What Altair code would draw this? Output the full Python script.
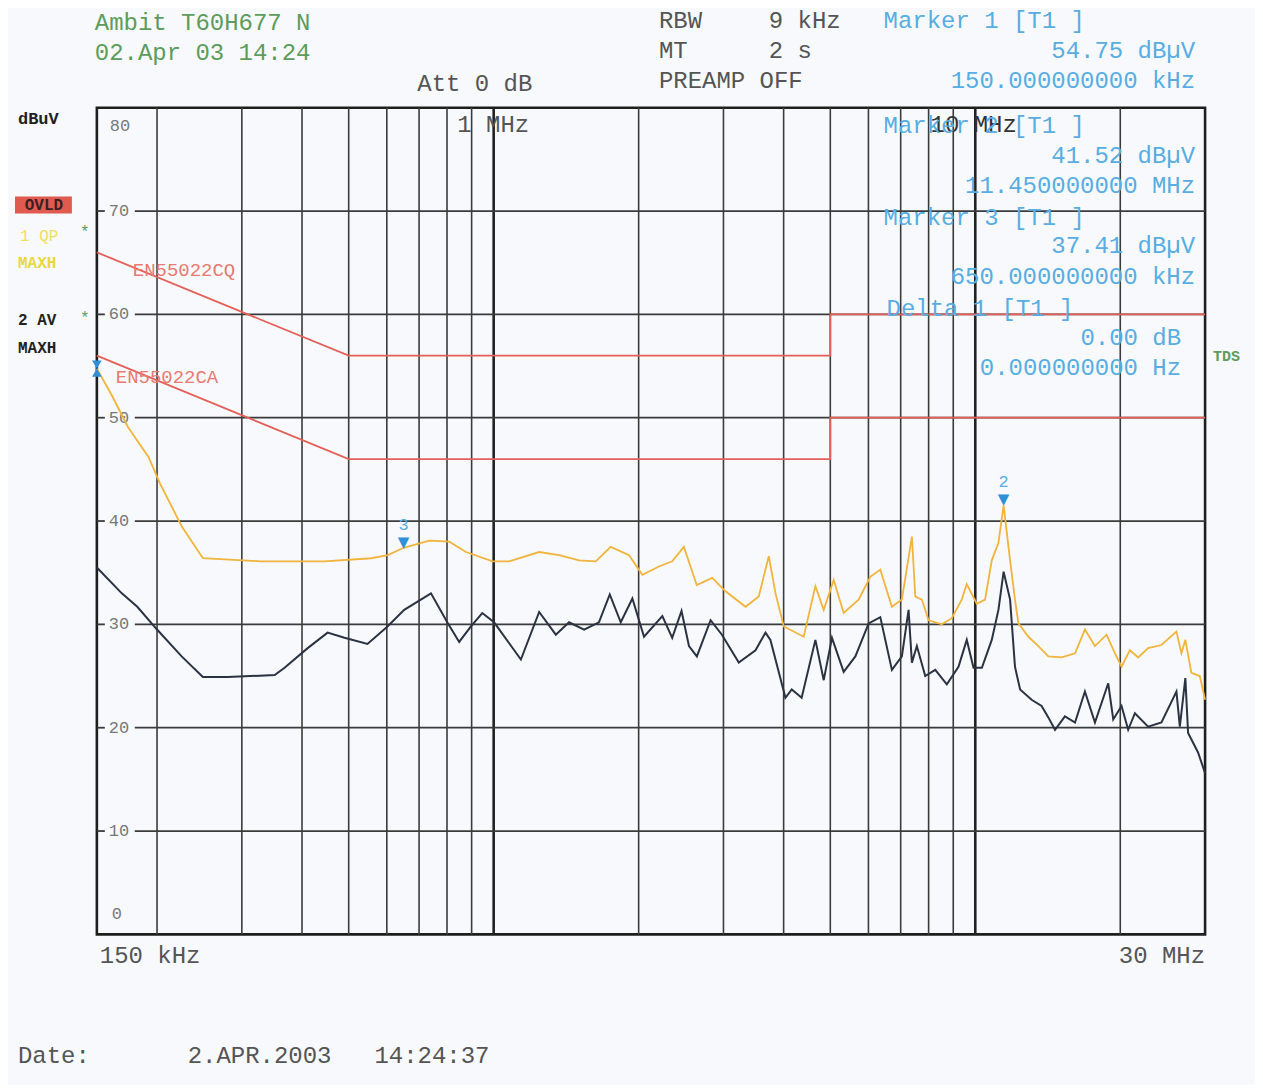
import altair as alt
import pandas as pd

# ---------------- data ----------------
# Trace 1: QP, max hold (yellow)
qp_freq_mhz = [0.150, 0.161, 0.174, 0.192, 0.203, 0.225, 0.249, 0.329, 0.445, 0.557,
               0.603, 0.650, 0.735, 0.809, 0.876, 0.995, 1.077, 1.243, 1.368, 1.504,
               1.629, 1.750, 1.910, 2.036, 2.204, 2.348, 2.483, 2.640, 2.843, 3.030,
               3.334, 3.552, 3.726, 3.848, 4.003, 4.403, 4.656, 4.845, 5.082, 5.330,
               5.724, 6.053, 6.350, 6.712, 7.040, 7.386, 7.506, 7.746, 7.998, 8.521,
               8.937, 9.373, 9.600, 10.07, 10.48, 10.82, 11.17, 11.45, 11.81, 12.09,
               12.29, 12.89, 13.52, 14.18, 15.11, 16.11, 16.89, 17.72, 18.73, 19.50,
               20.12, 20.94, 21.79, 22.85, 24.35, 26.16, 26.79, 27.30, 28.10, 29.25, 30.0]
qp_level_dbuv = [54.75, 52.2, 49.1, 46.2, 43.6, 39.5, 36.4, 36.1, 36.1, 36.4,
                 36.7, 37.41, 38.1, 38.0, 37.0, 36.1, 36.1, 37.0, 36.7, 36.2,
                 36.1, 37.5, 36.7, 34.8, 35.6, 36.1, 37.5, 33.8, 34.5, 33.2,
                 31.7, 32.7, 36.6, 33.0, 29.8, 28.8, 33.7, 31.4, 34.3, 31.1,
                 32.4, 34.6, 35.3, 31.7, 32.4, 38.5, 32.7, 32.4, 30.4, 30.0,
                 30.6, 32.4, 33.9, 32.0, 32.4, 36.2, 37.9, 41.52, 36.2, 32.4,
                 30.1, 28.8, 27.9, 26.9, 26.8, 27.2, 29.5, 27.9, 29.0, 27.2,
                 25.9, 27.5, 26.8, 27.7, 28.0, 29.3, 27.2, 28.5, 25.3, 25.0, 22.7]

# Trace 2: AV, max hold (dark)
av_freq_mhz = [0.150, 0.169, 0.182, 0.200, 0.225, 0.249, 0.280, 0.351, 0.368, 0.411,
               0.452, 0.490, 0.547, 0.602, 0.652, 0.741, 0.801, 0.848, 0.897, 0.947,
               1.002, 1.139, 1.243, 1.346, 1.434, 1.541, 1.654, 1.742, 1.836, 1.941,
               2.052, 2.240, 2.348, 2.455, 2.544, 2.642, 2.821, 2.978, 3.228, 3.497,
               3.668, 3.755, 4.035, 4.158, 4.360, 4.656, 4.845, 5.040, 5.330, 5.636,
               6.006, 6.350, 6.712, 7.040, 7.269, 7.386, 7.563, 7.872, 8.258, 8.727,
               9.228, 9.600, 9.915, 10.32, 10.82, 11.17, 11.45, 11.81, 12.09, 12.39,
               13.09, 13.73, 14.18, 14.64, 15.35, 16.11, 16.89, 17.72, 18.88, 19.34,
               20.12, 20.77, 21.45, 22.85, 24.35, 26.16, 26.59, 27.30, 27.66, 29.01, 30.0]
av_level_dbuv = [35.5, 33.0, 31.7, 29.5, 26.9, 24.9, 24.9, 25.1, 25.8, 27.7,
                 29.2, 28.7, 28.1, 29.8, 31.4, 33.0, 30.2, 28.3, 29.8, 31.1,
                 30.2, 26.6, 31.2, 29.0, 30.2, 29.5, 30.2, 32.9, 30.2, 32.5,
                 28.8, 30.8, 28.7, 31.3, 27.9, 26.9, 30.4, 29.0, 26.3, 27.5,
                 29.2, 28.5, 22.9, 23.7, 22.9, 28.5, 24.6, 28.7, 25.4, 26.9,
                 30.1, 30.7, 25.6, 26.9, 31.4, 26.3, 27.9, 25.0, 25.6, 24.2,
                 25.9, 28.5, 25.8, 25.8, 28.5, 31.4, 35.1, 32.4, 25.9, 23.7,
                 22.7, 22.1, 21.0, 19.8, 21.1, 20.5, 23.5, 20.5, 24.3, 20.8,
                 22.1, 19.8, 21.4, 20.1, 20.5, 23.5, 20.1, 24.8, 19.5, 17.6, 15.6]

# Limit lines
lim_qp_freq_mhz = [0.15, 0.5, 5.0, 5.0, 30.0]
lim_qp_level = [66, 56, 56, 60, 60]
lim_av_freq_mhz = [0.15, 0.5, 5.0, 5.0, 30.0]
lim_av_level = [56, 46, 46, 50, 50]

# Grid
grid_freq_mhz = [0.2, 0.3, 0.4, 0.5, 0.6, 0.7, 0.8, 0.9,
                 2, 3, 4, 5, 6, 7, 8, 9, 20]
decade_freq_mhz = [1, 10]
grid_levels = [10, 20, 30, 40, 50, 60, 70]
y_mid_labels = ["70", "60", "50", "40", "30", "20", "10"]
y_mid_levels = [70, 60, 50, 40, 30, 20, 10]

# Markers
marker_ids = ["2", "3"]
marker_freq_mhz = [11.45, 0.65]
marker_level = [41.52, 37.41]
marker1_freq_mhz = [0.15]
marker1_level = [54.75]

# ---------------- styling ----------------
FONT = "Liberation Mono"
GRAY = "#555555"
BLUE = "#58ade3"
GREEN = "#5c9c5c"
RED = "#e45f58"
YELLOW = "#f1b43c"
DARK = "#2b3242"
GRID = "#3b3b3b"
BG = "#f7f9fc"
HS = 24  # header / readout font size
W, H = 1110, 828

XS = alt.Scale(type="log", domain=[0.15, 30], nice=False)
YS = alt.Scale(domain=[0, 80], nice=False)


def X(field="f"):
    return alt.X(f"{field}:Q", scale=XS, axis=None)


def Y(field="dB"):
    return alt.Y(f"{field}:Q", scale=YS, axis=None)


def txt(s, x, y, color=GRAY, size=HS, align="left", font=FONT, weight="normal"):
    return alt.Chart(alt.Data(values=[{"a": 1}])).mark_text(
        text=s, align=align, baseline="middle", font=font, fontSize=size,
        color=color, fontWeight=weight
    ).encode(x=alt.value(x), y=alt.value(y))


qp_df = pd.DataFrame({"f": qp_freq_mhz, "dB": qp_level_dbuv})
av_df = pd.DataFrame({"f": av_freq_mhz, "dB": av_level_dbuv})
lim_qp_df = pd.DataFrame({"f": lim_qp_freq_mhz, "dB": lim_qp_level, "i": range(5)})
lim_av_df = pd.DataFrame({"f": lim_av_freq_mhz, "dB": lim_av_level, "i": range(5)})
grid_f_df = pd.DataFrame({"f": grid_freq_mhz})
dec_df = pd.DataFrame({"f": decade_freq_mhz})
grid_y_df = pd.DataFrame({"dB": grid_levels})
ylab_df = pd.DataFrame({"dB": y_mid_levels, "t": y_mid_labels})
mk_df = pd.DataFrame({"f": marker_freq_mhz, "dB": marker_level, "id": marker_ids})
mk1_df = pd.DataFrame({"f": marker1_freq_mhz, "dB": marker1_level})

layers = []

# grid: vertical lines, horizontal lines that leave a gap for the level labels
layers.append(alt.Chart(grid_f_df).mark_rule(color=GRID, strokeWidth=1.6).encode(x=X()))
layers.append(alt.Chart(dec_df).mark_rule(color="#222222", strokeWidth=2.6).encode(x=X()))
layers.append(alt.Chart(grid_y_df).mark_rule(color=GRID, strokeWidth=1.8).encode(
    y=Y(), x=alt.value(38), x2=alt.value(W)))
layers.append(alt.Chart(grid_y_df).mark_rule(color=GRID, strokeWidth=1.8).encode(
    y=Y(), x=alt.value(0), x2=alt.value(8)))

# y labels inside plot
layers.append(alt.Chart(ylab_df).mark_text(
    align="left", baseline="middle", font=FONT, fontSize=17, color="#777777"
).encode(x=alt.value(12), y=Y(), text="t:N"))
layers.append(txt("80", 13, 18, color="#777777", size=17))
layers.append(txt("0", 15, 808, color="#777777", size=17))

# limit lines
layers.append(alt.Chart(lim_qp_df).mark_line(color=RED, strokeWidth=1.8).encode(
    x=X(), y=Y(), order="i:Q"))
layers.append(alt.Chart(lim_av_df).mark_line(color=RED, strokeWidth=1.8).encode(
    x=X(), y=Y(), order="i:Q"))
layers.append(txt("EN55022CQ", 36, 163, color="#e77a72", size=19))
layers.append(txt("EN55022CA", 19, 270, color="#e77a72", size=19))

# traces
layers.append(alt.Chart(qp_df).mark_line(color=YELLOW, strokeWidth=1.8).encode(x=X(), y=Y()))
layers.append(alt.Chart(av_df).mark_line(color=DARK, strokeWidth=2).encode(x=X(), y=Y()))

# markers
layers.append(alt.Chart(mk_df).mark_text(
    text="▼", font="DejaVu Sans", fontSize=15, color="#2f8fd8", baseline="bottom", dy=2
).encode(x=X(), y=Y()))
layers.append(alt.Chart(mk_df).mark_text(
    font=FONT, fontSize=17, color=BLUE, baseline="bottom", dy=-14
).encode(x=X(), y=Y(), text="id:N"))
# marker 1: hourglass symbol at the left edge
layers.append(alt.Chart(mk1_df).mark_point(
    shape="M -0.6 -1 L 0.6 -1 L -0.6 1 L 0.6 1 Z", filled=True, size=260,
    color="#2f8fd8", opacity=1
).encode(x=X(), y=Y()))

# frequency labels in plot
layers.append(txt("1 MHz", 361, 17))
layers.append(txt("10 MHz", 835, 17, color="#333333"))

# header (outside the plot, coordinates relative to plot origin)
layers.append(txt("Ambit T60H677 N", -2, -85, color=GREEN))
layers.append(txt("02.Apr 03 14:24", -2, -55, color=GREEN))
layers.append(txt("Att 0 dB", 321, -24))
layers.append(txt("RBW", 563, -87))
layers.append(txt("9 kHz", 673, -87))
layers.append(txt("MT", 563, -57))
layers.append(txt("2 s", 673, -57))
layers.append(txt("PREAMP OFF", 563, -27))

# marker readouts
layers.append(txt("Marker 1 [T1 ]", 788, -87, color=BLUE))
layers.append(txt("54.75 dBµV", 1100, -57, color=BLUE, align="right"))
layers.append(txt("150.000000000 kHz", 1100, -27, color=BLUE, align="right"))
layers.append(txt("Marker 2 [T1 ]", 788, 18, color=BLUE))
layers.append(txt("41.52 dBµV", 1100, 48, color=BLUE, align="right"))
layers.append(txt("11.450000000 MHz", 1100, 78, color=BLUE, align="right"))
layers.append(txt("Marker 3 [T1 ]", 788, 110, color=BLUE))
layers.append(txt("37.41 dBµV", 1100, 139, color=BLUE, align="right"))
layers.append(txt("650.000000000 kHz", 1100, 170, color=BLUE, align="right"))
layers.append(txt("Delta 1 [T1 ]", 791, 202, color=BLUE))
layers.append(txt("0.00 dB", 1086, 231, color=BLUE, align="right"))
layers.append(txt("0.000000000 Hz", 1086, 261, color=BLUE, align="right"))

# left side status labels
layers.append(txt("dBuV", -79, 11, color="#222222", size=17, weight="bold"))
layers.append(alt.Chart(alt.Data(values=[{"a": 1}])).mark_rect(color="#e05a50").encode(
    x=alt.value(-82), x2=alt.value(-25), y=alt.value(89), y2=alt.value(106)))
layers.append(txt("OVLD", -53, 97, color="#3a2020", size=16, align="center", weight="bold"))
layers.append(txt("1 QP", -77, 129, color="#efe060", size=16))
layers.append(txt("*", -17, 125, color=GREEN, size=16))
layers.append(txt("MAXH", -79, 156, color="#e8d840", size=16, weight="bold"))
layers.append(txt("2 AV", -79, 213, color="#222222", size=16, weight="bold"))
layers.append(txt("*", -17, 211, color=GREEN, size=16))
layers.append(txt("MAXH", -79, 241, color="#222222", size=16, weight="bold"))
layers.append(txt("TDS", 1118, 249, color=GREEN, size=15, weight="bold"))

# bottom labels
layers.append(txt("150 kHz", 3, 850))
layers.append(txt("30 MHz", 1110, 850, align="right"))
layers.append(txt("Date:", -79, 950))
layers.append(txt("2.APR.2003", 91, 950))
layers.append(txt("14:24:37", 278, 950))

chart = alt.layer(*layers).properties(
    width=W,
    height=H,
    autosize=alt.AutoSizeParams(type="none"),
    padding={"left": 89, "top": 99, "right": 50, "bottom": 150},
    background=BG,
).configure_view(stroke="#1e1e1e", strokeWidth=2.6, fill=BG)

chart.save("out.html", embed_options={"renderer": "svg", "actions": False})
